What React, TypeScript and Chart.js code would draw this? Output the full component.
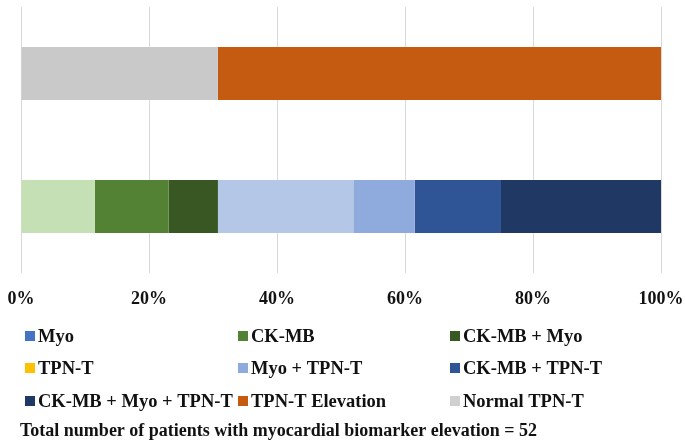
import React, { useEffect, useRef } from "react";
import { Chart, registerables } from "chart.js";

Chart.register(...registerables);

const categories = ["TPN-T status", "Biomarker pattern"];
const totalPatients = 52;

// counts per category [top bar, bottom bar]
const myo = [0, 6];
const ckmb = [0, 6];
const ckmbMyo = [0, 4];
const tpnt = [0, 11];
const myoTpnt = [0, 5];
const ckmbTpnt = [0, 7];
const ckmbMyoTpnt = [0, 13];
const normalTpnt = [16, 0];
const tpntElevation = [36, 0];

const tickLabels = ["0%", "20%", "40%", "60%", "80%", "100%"];

const legendItems = [
  { text: "Myo", color: "#4472C4" },
  { text: "CK-MB", color: "#548235" },
  { text: "CK-MB + Myo", color: "#385723" },
  { text: "TPN-T", color: "#FFC000" },
  { text: "Myo + TPN-T", color: "#8FAADC" },
  { text: "CK-MB + TPN-T", color: "#2F5597" },
  { text: "CK-MB + Myo + TPN-T", color: "#203864" },
  { text: "TPN-T Elevation", color: "#C55A11" },
  { text: "Normal TPN-T", color: "#D0D0D0" },
];

const footnote = "Total number of patients with myocardial biomarker elevation = " + totalPatients;

const FONT = '"Liberation Serif", "Times New Roman", serif';

const pct = (arr: number[]) => arr.map((v) => (v / totalPatients) * 100);

export default function App() {
  const ref = useRef<HTMLCanvasElement | null>(null);

  useEffect(() => {
    if (!ref.current) return;
    const legendPlugin = {
      id: "gridLegend",
      afterDraw(chart: any) {
        const ctx = chart.ctx;
        ctx.save();
        const cols = [25, 238, 450];
        const rows = [336, 368, 401];
        ctx.font = `bold 18.5px ${FONT}`;
        ctx.textBaseline = "middle";
        ctx.textAlign = "left";
        legendItems.forEach((it, i) => {
          const x = cols[i % 3];
          const y = rows[Math.floor(i / 3)];
          ctx.fillStyle = it.color;
          ctx.fillRect(x, y - 5, 10, 10);
          ctx.fillStyle = "#111";
          ctx.fillText(it.text, x + 13, y + 1);
        });
        ctx.font = `bold 18px ${FONT}`;
        ctx.fillStyle = "#111";
        ctx.fillText(footnote, 20, 431);
        ctx.restore();
      },
    };

    const chart = new Chart(ref.current, {
      type: "bar",
      data: {
        labels: categories,
        datasets: [
          { label: "Myo", data: pct(myo), backgroundColor: "#C5E0B4" },
          { label: "CK-MB", data: pct(ckmb), backgroundColor: "#548235" },
          { label: "CK-MB + Myo", data: pct(ckmbMyo), backgroundColor: "#385723" },
          { label: "TPN-T", data: pct(tpnt), backgroundColor: "#B4C7E7" },
          { label: "Myo + TPN-T", data: pct(myoTpnt), backgroundColor: "#8FAADC" },
          { label: "CK-MB + TPN-T", data: pct(ckmbTpnt), backgroundColor: "#2F5597" },
          { label: "CK-MB + Myo + TPN-T", data: pct(ckmbMyoTpnt), backgroundColor: "#203864" },
          { label: "Normal TPN-T", data: pct(normalTpnt), backgroundColor: "#C9C9C9" },
          { label: "TPN-T Elevation", data: pct(tpntElevation), backgroundColor: "#C55A11" },
        ],
      },
      options: {
        indexAxis: "y",
        responsive: false,
        animation: false,
        layout: { padding: { left: 21, right: 24, top: 7, bottom: 0 } },
        datasets: { bar: { barPercentage: 1, categoryPercentage: 0.4 } },
        plugins: { legend: { display: false }, tooltip: { enabled: false } },
        scales: {
          x: {
            stacked: true,
            min: 0,
            max: 100,
            border: { display: false },
            grid: { color: "#D9D9D9", lineWidth: 1, drawTicks: false },
            ticks: {
              stepSize: 20,
              padding: 16,
              color: "#111",
              font: { family: FONT, size: 18, weight: "bold" },
              callback: (_v: any, i: number) => tickLabels[i],
            },
            afterFit: (scale: any) => {
              scale.height = 168;
              scale.paddingLeft = 0;
              scale.paddingRight = 0;
            },
          },
          y: { stacked: true, display: false },
        },
      },
      plugins: [legendPlugin],
    } as any);
    return () => chart.destroy();
  }, []);

  return (
    <div style={{ position: "absolute", left: 0, top: 0, width: 685, height: 441, background: "#fff" }}>
      <canvas ref={ref} width={685} height={441} />
    </div>
  );
}
